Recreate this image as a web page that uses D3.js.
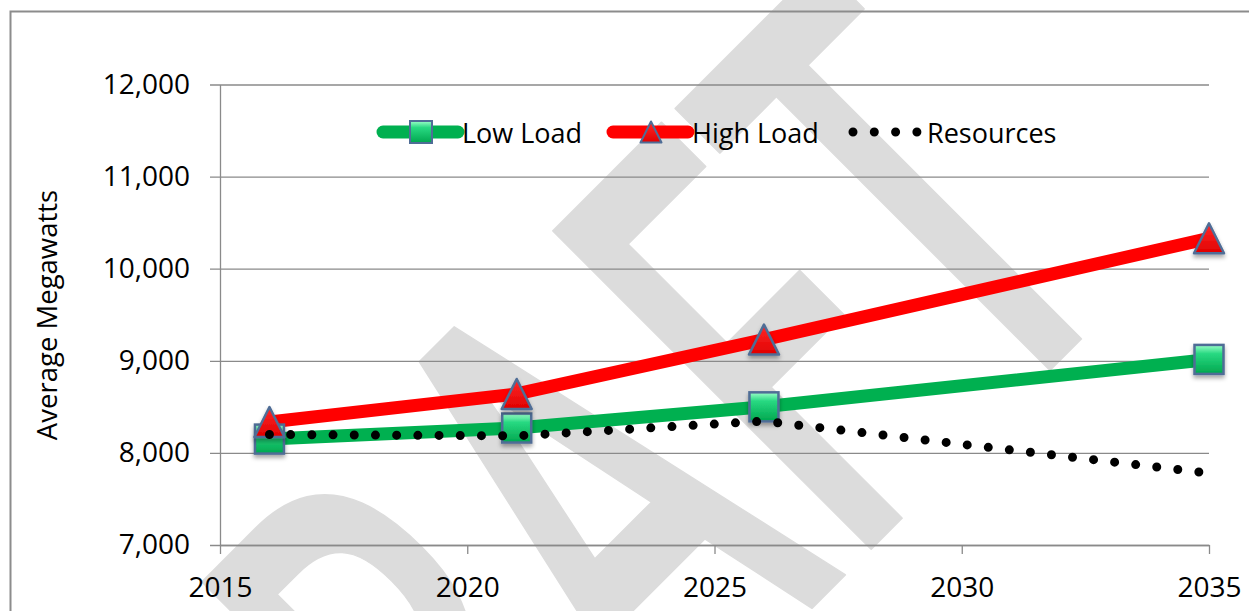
<!DOCTYPE html>
<html>
<head>
<meta charset="utf-8">
<script src="https://cdnjs.cloudflare.com/ajax/libs/d3/7.8.5/d3.min.js"></script>
<style>
  body { margin: 0; background: #fff; }
  svg { display: block; }
</style>
</head>
<body>
<svg width="1249" height="611"></svg>
<script>
// chart data
var years = [2016, 2021, 2026, 2035];
var lowLoad = [8150, 8270, 8500, 9015];
var highLoad = [8335, 8640, 9230, 10330];
var resources = [8200, 8185, 8345, 7780];
var seriesNames = ["Low Load", "High Load", "Resources"];
var xTicks = [2015, 2020, 2025, 2030, 2035];
var yTicks = [7000, 8000, 9000, 10000, 11000, 12000];
var yTitle = "Average Megawatts";
var watermarkText = "DRAFT";

var svg = d3.select("svg"),
    width = +svg.attr("width"),
    height = +svg.attr("height");

var plotLeft = 220, plotRight = 1209, plotTop = 84.5, plotBottom = 545;
var font = "'Open Sans', 'DejaVu Sans', sans-serif";
var gridColor = "#8a8a8a";

var x = d3.scaleLinear().domain([2015, 2035]).range([plotLeft, plotRight]);
var y = d3.scaleLinear().domain([7000, 12000]).range([plotBottom, plotTop]);

// defs: marker fills and shadow
var defs = svg.append("defs");
var gGreen = defs.append("linearGradient").attr("id", "sqFill")
    .attr("x1", 0).attr("y1", 0).attr("x2", 0).attr("y2", 1);
gGreen.append("stop").attr("offset", "0%").attr("stop-color", "#9dffc9");
gGreen.append("stop").attr("offset", "30%").attr("stop-color", "#28d982");
gGreen.append("stop").attr("offset", "100%").attr("stop-color", "#00a64e");
var gRed = defs.append("linearGradient").attr("id", "triFill")
    .attr("x1", 0).attr("y1", 0).attr("x2", 0).attr("y2", 1);
gRed.append("stop").attr("offset", "0%").attr("stop-color", "#ff2a2a");
gRed.append("stop").attr("offset", "100%").attr("stop-color", "#e00000");
defs.append("filter").attr("id", "shadow")
    .attr("x", "-50%").attr("y", "-50%").attr("width", "200%").attr("height", "200%")
    .append("feDropShadow")
    .attr("dx", 0).attr("dy", 3).attr("stdDeviation", 2)
    .attr("flood-color", "#000").attr("flood-opacity", 0.35);

// watermark behind everything
var wmSize = 630;
var wm = svg.append("g").attr("class", "watermark");
var wmText = wm.append("text")
    .text(watermarkText)
    .attr("font-family", "'Open Sans', sans-serif")
    .attr("font-weight", 600)
    .attr("font-size", wmSize)
    .attr("fill", "#dcdcdc")
    .attr("stroke", "#dcdcdc")
    .attr("stroke-width", 2)
    .attr("stroke-linejoin", "round");
var el = wmText.node();
var fBox = el.getExtentOfChar(3), tBox = el.getExtentOfChar(4);
var fStem = fBox.x + 0.15 * wmSize;
var tStem = tBox.x + tBox.width / 2;
var sx = 254 / (tStem - fStem);
wmText.attr("transform", "translate(886,534) rotate(-45) scale(" + sx + ",1) translate(" + (-fStem) + ",0)");

// outer frame
svg.append("rect")
    .attr("x", 10.5).attr("y", 11.5)
    .attr("width", 1300).attr("height", 700)
    .attr("fill", "none")
    .attr("stroke", "#8c8c8c")
    .attr("stroke-width", 2);

// y gridlines + labels (axis placed at the right edge, ticks run left)
var yAxis = svg.append("g")
    .attr("transform", "translate(" + plotRight + ",0)")
    .call(d3.axisLeft(y)
        .tickValues(yTicks)
        .tickFormat(d3.format(","))
        .tickSizeInner(plotRight - 210)
        .tickSizeOuter(0)
        .tickPadding(20));
yAxis.select(".domain").remove();
yAxis.selectAll("line").attr("stroke", gridColor).attr("stroke-width", 1.3);
yAxis.selectAll("text")
    .attr("font-family", font).attr("font-size", 28).attr("fill", "#000");

// y axis line
svg.append("g")
    .attr("transform", "translate(" + plotLeft + ",0)")
    .call(d3.axisLeft(y).tickValues([]).tickSizeOuter(0))
    .select(".domain").attr("stroke", gridColor).attr("stroke-width", 1.3);

// x axis
var xAxis = svg.append("g")
    .attr("transform", "translate(0," + plotBottom + ")")
    .call(d3.axisBottom(x)
        .tickValues(xTicks)
        .tickFormat(d3.format("d"))
        .tickSizeInner(9)
        .tickSizeOuter(0)
        .tickPadding(23));
xAxis.select(".domain").attr("stroke", gridColor).attr("stroke-width", 1.3);
xAxis.selectAll("line").attr("stroke", gridColor).attr("stroke-width", 1.3);
xAxis.selectAll("text")
    .attr("font-family", font).attr("font-size", 28).attr("fill", "#000");

// y title
svg.append("text")
    .attr("transform", "translate(57,315) rotate(-90)")
    .attr("text-anchor", "middle")
    .attr("font-family", font)
    .attr("font-size", 27.5)
    .text(yTitle);

var line = d3.line()
    .x(function (d) { return x(d[0]); })
    .y(function (d) { return y(d[1]); });

function pairs(vals) {
    return years.map(function (yr, i) { return [yr, vals[i]]; });
}

var trianglePath = function (s) {
    return "M0," + (-s / 2) + "L" + (s / 2) + "," + (s / 2) + "L" + (-s / 2) + "," + (s / 2) + "Z";
};

// series lines
svg.append("path")
    .datum(pairs(lowLoad))
    .attr("d", line)
    .attr("fill", "none")
    .attr("stroke", "#00b050")
    .attr("stroke-width", 13)
    .attr("stroke-linejoin", "round");

svg.append("path")
    .datum(pairs(highLoad))
    .attr("d", line)
    .attr("fill", "none")
    .attr("stroke", "#ff0000")
    .attr("stroke-width", 13)
    .attr("stroke-linejoin", "round");

// markers
svg.append("g").selectAll("rect")
    .data(pairs(lowLoad))
    .enter().append("rect")
    .attr("x", function (d) { return x(d[0]) - 14.5; })
    .attr("y", function (d) { return y(d[1]) - 14.5; })
    .attr("width", 29).attr("height", 29)
    .attr("fill", "url(#sqFill)")
    .attr("stroke", "#4f6d96")
    .attr("stroke-width", 2.5)
    .attr("filter", "url(#shadow)");

svg.append("g").selectAll("path")
    .data(pairs(highLoad))
    .enter().append("path")
    .attr("transform", function (d) { return "translate(" + x(d[0]) + "," + y(d[1]) + ")"; })
    .attr("d", trianglePath(30))
    .attr("fill", "url(#triFill)")
    .attr("stroke", "#4f6d96")
    .attr("stroke-width", 2.5)
    .attr("stroke-linejoin", "round")
    .attr("filter", "url(#shadow)");

// resources dotted line sits on top
svg.append("path")
    .datum(pairs(resources))
    .attr("d", line)
    .attr("fill", "none")
    .attr("stroke", "#000")
    .attr("stroke-width", 9)
    .attr("stroke-linecap", "round")
    .attr("stroke-dasharray", "0,21.2");

// legend
var legendY = 132;
var legend = svg.append("g").attr("font-family", font).attr("font-size", 27);

legend.append("line")
    .attr("x1", 383).attr("x2", 458).attr("y1", legendY).attr("y2", legendY)
    .attr("stroke", "#00b050").attr("stroke-width", 13).attr("stroke-linecap", "round");
legend.append("rect")
    .attr("x", 421 - 11).attr("y", legendY - 11).attr("width", 22).attr("height", 22)
    .attr("fill", "url(#sqFill)").attr("stroke", "#4f6d96").attr("stroke-width", 2);
legend.append("text").attr("x", 462).attr("y", legendY + 11).text(seriesNames[0]);

legend.append("line")
    .attr("x1", 613).attr("x2", 688).attr("y1", legendY).attr("y2", legendY)
    .attr("stroke", "#ff0000").attr("stroke-width", 13).attr("stroke-linecap", "round");
legend.append("path")
    .attr("transform", "translate(651," + legendY + ")")
    .attr("d", trianglePath(21))
    .attr("fill", "url(#triFill)").attr("stroke", "#4f6d96").attr("stroke-width", 2)
    .attr("stroke-linejoin", "round");
legend.append("text").attr("x", 692).attr("y", legendY + 11).text(seriesNames[1]);

legend.append("line")
    .attr("x1", 853).attr("x2", 918).attr("y1", legendY).attr("y2", legendY)
    .attr("stroke", "#000").attr("stroke-width", 9).attr("stroke-linecap", "round")
    .attr("stroke-dasharray", "0,21.3");
legend.append("text").attr("x", 927).attr("y", legendY + 11).text(seriesNames[2]);
</script>
</body>
</html>
